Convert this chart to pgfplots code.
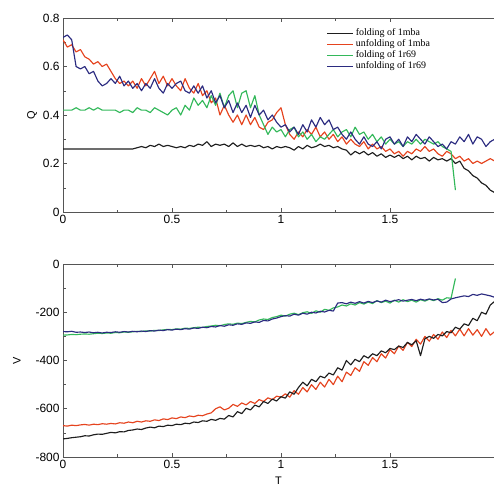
\documentclass[border=0pt]{standalone}
\usepackage{pgfplots}
\pgfplotsset{compat=1.18}
\usepackage{pgfplotstable}
\usepackage{fontspec}
\setmainfont{Liberation Sans}
\newfontfamily\legfont{Liberation Serif}

\definecolor{cblk}{HTML}{1E1E1E}
\definecolor{cred}{HTML}{E5431E}
\definecolor{cgrn}{HTML}{33B85A}
\definecolor{cblu}{HTML}{2B2B80}
\definecolor{cax}{HTML}{555555}

% columns: T, folding 1mba, unfolding 1mba, folding 1r69, unfolding 1r69
\pgfplotstableread{
x    k     r    g    b
0.00 0.26  0.71 0.42 0.72
0.02 0.26  0.68 0.42 0.73
0.04 0.26  0.69 0.42 0.71
0.06 0.26  0.66 0.43 0.60
0.08 0.26  0.67 0.42 0.59
0.10 0.26  0.64 0.42 0.60
0.12 0.26  0.63 0.43 0.57
0.14 0.26  0.61 0.42 0.58
0.16 0.26  0.62 0.43 0.54
0.18 0.26  0.60 0.42 0.52
0.20 0.26  0.61 0.42 0.53
0.22 0.26  0.58 0.42 0.55
0.24 0.26  0.55 0.42 0.53
0.26 0.26  0.53 0.41 0.56
0.28 0.26  0.54 0.42 0.52
0.30 0.26  0.52 0.42 0.54
0.32 0.26  0.54 0.41 0.51
0.34 0.265 0.51 0.43 0.53
0.36 0.27  0.55 0.42 0.50
0.38 0.265 0.52 0.42 0.53
0.40 0.275 0.55 0.41 0.51
0.42 0.27  0.58 0.43 0.55
0.44 0.28  0.53 0.42 0.51
0.46 0.27  0.56 0.41 0.49
0.48 0.275 0.52 0.40 0.53
0.50 0.27  0.55 0.42 0.51
0.52 0.265 0.52 0.43 0.53
0.54 0.27  0.50 0.40 0.54
0.56 0.265 0.55 0.44 0.50
0.58 0.275 0.51 0.42 0.49
0.60 0.27  0.49 0.47 0.52
0.62 0.28  0.53 0.44 0.49
0.64 0.275 0.48 0.46 0.52
0.66 0.29  0.50 0.43 0.47
0.68 0.27  0.45 0.48 0.50
0.70 0.28  0.47 0.44 0.45
0.72 0.275 0.40 0.49 0.48
0.74 0.28  0.44 0.43 0.43
0.76 0.27  0.40 0.48 0.46
0.78 0.285 0.37 0.50 0.41
0.80 0.27  0.40 0.43 0.45
0.82 0.28  0.36 0.49 0.41
0.84 0.27  0.40 0.50 0.44
0.86 0.275 0.36 0.43 0.39
0.88 0.27  0.39 0.48 0.44
0.90 0.275 0.35 0.40 0.40
0.92 0.265 0.34 0.36 0.42
0.94 0.27  0.37 0.32 0.38
0.96 0.26  0.38 0.35 0.40
0.98 0.27  0.41 0.33 0.37
1.00 0.265 0.43 0.34 0.35
1.02 0.27  0.36 0.31 0.36
1.04 0.265 0.32 0.34 0.33
1.06 0.255 0.30 0.35 0.35
1.08 0.27  0.33 0.31 0.32
1.10 0.26  0.31 0.33 0.36
1.12 0.275 0.34 0.30 0.33
1.14 0.265 0.32 0.32 0.38
1.16 0.27  0.35 0.29 0.35
1.18 0.28  0.31 0.31 0.39
1.20 0.27  0.33 0.30 0.36
1.22 0.275 0.30 0.32 0.38
1.24 0.265 0.32 0.34 0.34
1.26 0.27  0.29 0.31 0.35
1.28 0.26  0.31 0.33 0.32
1.30 0.255 0.28 0.34 0.30
1.32 0.235 0.30 0.31 0.33
1.34 0.25  0.28 0.35 0.30
1.36 0.24  0.27 0.32 0.28
1.38 0.25  0.29 0.33 0.31
1.40 0.235 0.26 0.30 0.28
1.42 0.245 0.28 0.32 0.27
1.44 0.23  0.26 0.29 0.29
1.46 0.24  0.27 0.31 0.26
1.48 0.225 0.25 0.28 0.30
1.50 0.235 0.26 0.30 0.31
1.52 0.225 0.24 0.28 0.28
1.54 0.235 0.25 0.29 0.30
1.56 0.22  0.23 0.27 0.27
1.58 0.23  0.25 0.29 0.31
1.60 0.215 0.24 0.28 0.29
1.62 0.23  0.26 0.30 0.32
1.64 0.22  0.25 0.28 0.30
1.66 0.225 0.27 0.30 0.28
1.68 0.21  0.25 0.29 0.31
1.70 0.225 0.26 0.28 0.29
1.72 0.215 0.24 0.29 0.27
1.74 0.22  0.23 0.27 0.28
1.76 0.21  0.25 0.26 0.26
1.78 0.22  0.24 0.25 0.29
1.80 0.20  0.22 0.09 0.28
1.82 0.21  0.23 nan  0.31
1.84 0.18  0.21 nan  0.29
1.86 0.17  0.22 nan  0.32
1.88 0.15  0.20 nan  0.28
1.90 0.14  0.21 nan  0.31
1.92 0.12  0.20 nan  0.30
1.94 0.11  0.21 nan  0.27
1.96 0.09  0.22 nan  0.29
1.98 0.08  0.21 nan  0.30
}\tabQ

\pgfplotstableread{
x    k    r    g    b
0.00 -725 -670 -295 -280
0.02 -723 -672 -294 -281
0.04 -720 -668 -292 -279
0.06 -718 -670 -293 -283
0.08 -716 -667 -291 -282
0.10 -712 -665 -290 -284
0.12 -713 -668 -291 -282
0.14 -708 -664 -289 -285
0.16 -705 -666 -287 -283
0.18 -706 -662 -288 -286
0.20 -702 -664 -286 -283
0.22 -698 -661 -287 -284
0.24 -700 -663 -284 -281
0.26 -695 -658 -285 -283
0.28 -696 -660 -282 -280
0.30 -690 -655 -283 -282
0.32 -688 -658 -281 -279
0.34 -684 -652 -279 -281
0.36 -686 -655 -280 -278
0.38 -680 -650 -277 -280
0.40 -676 -652 -278 -276
0.42 -679 -646 -275 -278
0.44 -672 -649 -276 -274
0.46 -674 -642 -273 -276
0.48 -668 -645 -271 -272
0.50 -670 -638 -272 -274
0.52 -664 -641 -269 -270
0.54 -666 -634 -270 -272
0.56 -660 -637 -266 -268
0.58 -662 -630 -267 -270
0.60 -655 -633 -264 -265
0.62 -657 -627 -262 -267
0.64 -650 -629 -263 -262
0.66 -652 -622 -259 -264
0.68 -644 -617 -257 -259
0.70 -648 -600 -254 -261
0.72 -640 -592 -256 -255
0.74 -643 -605 -251 -258
0.76 -628 -598 -248 -252
0.78 -634 -582 -250 -254
0.80 -612 -590 -245 -248
0.82 -620 -576 -247 -250
0.84 -598 -584 -242 -244
0.86 -605 -570 -238 -246
0.88 -585 -578 -240 -240
0.90 -592 -562 -232 -242
0.92 -570 -570 -228 -234
0.94 -578 -555 -230 -236
0.96 -560 -562 -222 -228
0.98 -568 -548 -218 -224
1.00 -550 -552 -212 -218
1.02 -556 -538 -216 -214
1.04 -530 -552 -208 -216
1.06 -540 -525 -204 -208
1.08 -512 -540 -210 -212
1.10 -490 -512 -202 -204
1.12 -505 -530 -198 -208
1.14 -478 -500 -205 -200
1.16 -488 -520 -194 -203
1.18 -465 -490 -200 -196
1.20 -472 -510 -188 -199
1.22 -452 -478 -192 -192
1.24 -460 -500 -182 -195
1.26 -430 -465 -178 -162
1.28 -440 -488 -170 -160
1.30 -400 -448 -174 -165
1.32 -418 -462 -165 -158
1.34 -395 -430 -170 -163
1.36 -405 -445 -160 -156
1.38 -380 -405 -166 -162
1.40 -390 -420 -158 -155
1.42 -372 -388 -164 -160
1.44 -380 -405 -152 -153
1.46 -360 -372 -160 -158
1.48 -368 -390 -154 -150
1.50 -350 -355 -162 -156
1.52 -355 -372 -150 -152
1.54 -340 -340 -158 -148
1.56 -346 -358 -148 -154
1.58 -325 -325 -156 -150
1.60 -335 -342 -150 -147
1.62 -318 -312 -158 -152
1.64 -380 -332 -148 -146
1.66 -310 -300 -154 -150
1.68 -300 -320 -146 -145
1.70 -308 -292 -152 -149
1.72 -292 -312 -144 -146
1.74 -298 -282 -150 -160
1.76 -280 -305 -140 -158
1.78 -285 -275 -142 -145
1.80 -262 -298 -60  -140
1.82 -270 -270 nan  -136
1.84 -248 -298 nan  -132
1.86 -255 -268 nan  -135
1.88 -225 -295 nan  -126
1.90 -235 -272 nan  -130
1.92 -200 -300 nan  -124
1.94 -208 -268 nan  -128
1.96 -170 -295 nan  -132
1.98 -155 -280 nan  -138
}\tabV

\pgfplotsset{panel/.style={scale only axis, width=431bp, xmin=0, xmax=1.977,
  xtick={0,0.5,1,1.5}, minor x tick num=1, minor y tick num=1,
  axis x line=box, axis y line=left, y axis line style={-},
  axis line style={cax, line width=0.8bp}, tick style={cax, line width=0.5bp},
  tick align=inside, major tick length=4bp, minor tick length=2.5bp,
  /pgf/number format/assume math mode=true,
  tick label style={font=\fontsize{12}{14}\selectfont},
  label style={font=\fontsize{11}{13}\selectfont},
  every axis plot/.append style={line width=1.15bp, line join=round}}}

\begin{document}
\begin{tikzpicture}
\path[use as bounding box] (0,0) rectangle (494bp,-489bp);
\begin{axis}[panel, at={(63bp,-18bp)}, anchor=north west, height=194bp,
  ymin=0, ymax=0.8, ytick={0,0.2,0.4,0.6,0.8}, ylabel={Q}, ylabel shift=-1bp,
  legend style={at={(0.605,0.965)}, anchor=north west, draw=none, fill=none,
    font=\legfont\fontsize{10}{11}\selectfont, row sep=-1.5bp},
  legend cell align=left,
  legend image code/.code={\draw[#1, line width=0.9bp] (0bp,0bp) -- (26bp,0bp);}]
\addplot[cblk] table[x=x, y=k] {\tabQ};
\addlegendentry{folding of 1mba}
\addplot[cred] table[x=x, y=r] {\tabQ};
\addlegendentry{unfolding of 1mba}
\addplot[cgrn] table[x=x, y=g] {\tabQ};
\addlegendentry{folding of 1r69}
\addplot[cblu] table[x=x, y=b] {\tabQ};
\addlegendentry{unfolding of 1r69}
\end{axis}
\begin{axis}[panel, at={(63bp,-264bp)}, anchor=north west, height=193bp,
  ymin=-800, ymax=0, ytick={-800,-600,-400,-200,0}, ylabel={V},
  ylabel shift=8bp, xlabel={T}, xlabel style={yshift=-1bp}]
\addplot[cred] table[x=x, y=r] {\tabV};
\addplot[cblk] table[x=x, y=k] {\tabV};
\addplot[cgrn] table[x=x, y=g] {\tabV};
\addplot[cblu] table[x=x, y=b] {\tabV};
\end{axis}
\end{tikzpicture}
\end{document}
